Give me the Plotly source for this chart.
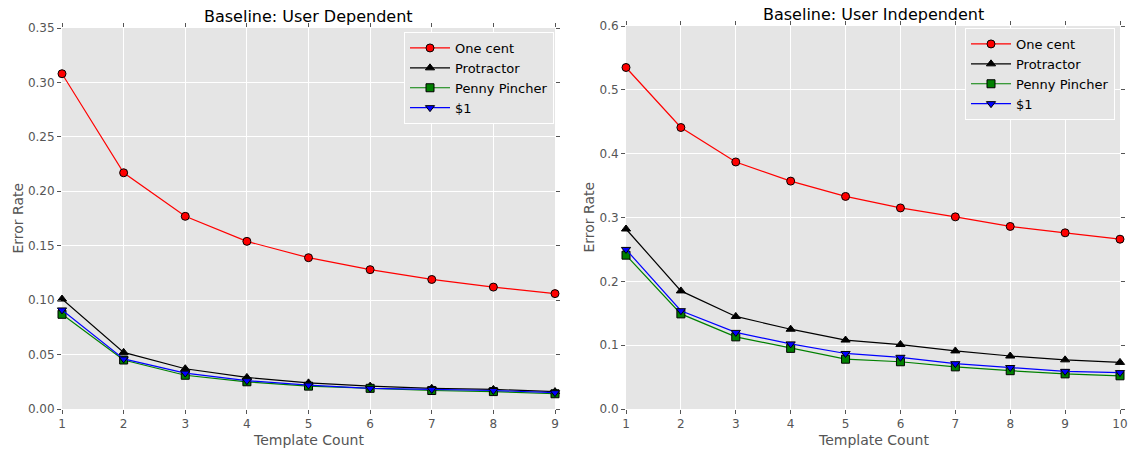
import plotly.graph_objects as go

# ---- data ----
x_dep = [1, 2, 3, 4, 5, 6, 7, 8, 9]
dep_one_cent = [0.308, 0.217, 0.177, 0.154, 0.139, 0.128, 0.119, 0.112, 0.106]
dep_protractor = [0.101, 0.052, 0.037, 0.029, 0.024, 0.021, 0.019, 0.018, 0.016]
dep_penny = [0.087, 0.045, 0.031, 0.025, 0.021, 0.019, 0.017, 0.016, 0.014]
dep_dollar = [0.091, 0.046, 0.033, 0.026, 0.022, 0.019, 0.018, 0.017, 0.015]

x_ind = [1, 2, 3, 4, 5, 6, 7, 8, 9, 10]
ind_one_cent = [0.535, 0.441, 0.387, 0.357, 0.333, 0.315, 0.301, 0.286, 0.276, 0.266]
ind_protractor = [0.282, 0.185, 0.145, 0.125, 0.108, 0.101, 0.091, 0.083, 0.077, 0.073]
ind_penny = [0.241, 0.149, 0.113, 0.095, 0.078, 0.074, 0.066, 0.060, 0.055, 0.052]
ind_dollar = [0.250, 0.154, 0.120, 0.102, 0.087, 0.081, 0.071, 0.065, 0.059, 0.057]

series_names = ["One cent", "Protractor", "Penny Pincher", "$1"]
colors = ["#FF0000", "#000000", "#008000", "#0000FF"]
symbols = ["circle", "triangle-up", "square", "triangle-down"]

W, H = 1128, 449
FONT = "DejaVu Sans"
fig = go.Figure()

def add_series(xs, ys_list, xaxis, yaxis, legend):
    for name, ys, c, s in zip(series_names, ys_list, colors, symbols):
        fig.add_trace(go.Scatter(
            x=xs, y=ys, name=name, mode="lines+markers",
            line=dict(color=c, width=1.2),
            marker=dict(symbol=s, size=8, color=c, line=dict(color="black", width=1)),
            xaxis=xaxis, yaxis=yaxis, legend=legend, cliponaxis=False,
        ))

add_series(x_dep, [dep_one_cent, dep_protractor, dep_penny, dep_dollar], "x", "y", "legend")
add_series(x_ind, [ind_one_cent, ind_protractor, ind_penny, ind_dollar], "x2", "y2", "legend2")

ax_common = dict(
    showgrid=True, gridcolor="white", gridwidth=1,
    zeroline=False, showline=False, automargin=False,
    ticks="outside", ticklen=4, tickcolor="#555555", tickwidth=1,
    mirror="ticks",
    tickfont=dict(family=FONT, size=12, color="#555555"),
)

L0, L1 = 62 / W, 555 / W
R0, R1 = 626 / W, 1120 / W
yb = 1 - 409 / H
yt_l = 1 - 28 / H
yt_r = 1 - 26 / H

fig.update_layout(
    width=W, height=H,
    margin=dict(l=0, r=0, t=0, b=0, autoexpand=False),
    paper_bgcolor="white", plot_bgcolor="#E5E5E5",
    font=dict(family=FONT),
    xaxis=dict(domain=[L0, L1], range=[1, 9], tickvals=x_dep, anchor="y", **ax_common),
    yaxis=dict(domain=[yb, yt_l], range=[0, 0.35], dtick=0.05, tickformat=".2f", anchor="x", **ax_common),
    xaxis2=dict(domain=[R0, R1], range=[1, 10], tickvals=x_ind, anchor="y2", **ax_common),
    yaxis2=dict(domain=[yb, yt_r], range=[0, 0.6], dtick=0.1, tickformat=".1f", anchor="x2", **ax_common),
    legend=dict(x=554 / W, y=1 - 32 / H, xanchor="right", yanchor="top",
                bgcolor="#E5E5E5", bordercolor="white", borderwidth=1,
                font=dict(family=FONT, size=13, color="black"), tracegroupgap=0, itemwidth=40),
    legend2=dict(x=1115 / W, y=1 - 28 / H, xanchor="right", yanchor="top",
                 bgcolor="#E5E5E5", bordercolor="white", borderwidth=1,
                 font=dict(family=FONT, size=13, color="black"), tracegroupgap=0, itemwidth=40),
    annotations=[
        dict(text="Baseline: User Dependent", x=(L0 + L1) / 2, y=1 - 17 / H, xref="paper", yref="paper",
             showarrow=False, font=dict(family=FONT, size=16, color="black"), xanchor="center", yanchor="middle"),
        dict(text="Baseline: User Independent", x=(R0 + R1) / 2, y=1 - 15 / H, xref="paper", yref="paper",
             showarrow=False, font=dict(family=FONT, size=16, color="black"), xanchor="center", yanchor="middle"),
        dict(text="Template Count", x=(L0 + L1) / 2, y=1 - 440 / H, xref="paper", yref="paper",
             showarrow=False, font=dict(family=FONT, size=14, color="#555555"), xanchor="center", yanchor="middle"),
        dict(text="Template Count", x=(R0 + R1) / 2, y=1 - 440 / H, xref="paper", yref="paper",
             showarrow=False, font=dict(family=FONT, size=14, color="#555555"), xanchor="center", yanchor="middle"),
        dict(text="Error Rate", x=17 / W, y=(yb + yt_l) / 2, xref="paper", yref="paper", textangle=-90,
             showarrow=False, font=dict(family=FONT, size=14, color="#555555"), xanchor="center", yanchor="middle"),
        dict(text="Error Rate", x=588 / W, y=(yb + yt_r) / 2, xref="paper", yref="paper", textangle=-90,
             showarrow=False, font=dict(family=FONT, size=14, color="#555555"), xanchor="center", yanchor="middle"),
    ],
)

fig.write_html("out.html")
